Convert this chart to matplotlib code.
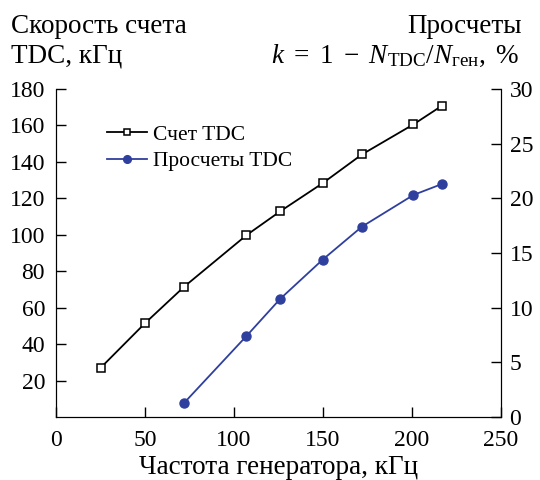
import matplotlib
matplotlib.use("Agg")
import matplotlib.pyplot as plt

plt.rcParams['font.family'] = ['Liberation Serif', 'DejaVu Serif']
plt.rcParams['mathtext.fontset'] = 'custom'
plt.rcParams['mathtext.rm'] = 'Liberation Serif'
plt.rcParams['mathtext.it'] = 'Liberation Serif:italic'
plt.rcParams['mathtext.bf'] = 'Liberation Serif:bold'

# Data
freq_count = [25, 50, 72, 107, 126, 150, 172, 201, 217]
count_tdc = [27, 51.5, 71.5, 99.7, 112.8, 128.3, 144, 160.5, 170.7]
freq_loss = [72, 107, 126, 150, 172, 201, 217]
loss_tdc = [1.3, 7.4, 10.8, 14.4, 17.4, 20.3, 21.3]

xticks = [0, 50, 100, 150, 200, 250]
yticks_left = [20, 40, 60, 80, 100, 120, 140, 160, 180]
yticks_right = [0, 5, 10, 15, 20, 25, 30]

blue = '#2f3f9e'

fig = plt.figure(figsize=(5.4, 4.8), dpi=100)
ax = fig.add_axes([0.104, 0.131, 0.823, 0.684])
ax2 = ax.twinx()

l1, = ax.plot(freq_count, count_tdc, '-', color='black', lw=1.3, marker='s',
              ms=5.5, mfc='white', mec='black', mew=1.1, label='Счет TDC')
l2, = ax2.plot(freq_loss, loss_tdc, '-', color=blue, lw=1.3, marker='o',
               ms=6.5, mfc=blue, mec=blue, label='Просчеты TDC')

ax.set_xlim(0, 250)
ax.set_ylim(0, 180)
ax2.set_ylim(0, 30)
ax.set_xticks(xticks)
ax.set_yticks(yticks_left)
ax2.set_yticks(yticks_right)

for a in (ax, ax2):
    a.spines['top'].set_visible(False)
    a.tick_params(direction='in', length=7, width=1, labelsize=17)
ax.tick_params(axis='x', pad=9)
ax.tick_params(axis='y', pad=8)
ax2.tick_params(axis='y', pad=6.5)

ax.set_xlabel('Частота генератора, кГц', fontsize=19.5, labelpad=3)

fig.text(0.02, 1 - 33 / 480, 'Скорость счета', ha='left', va='baseline',
         fontsize=19.5)
fig.text(0.02, 1 - 63 / 480, 'TDC, кГц', ha='left', va='baseline',
         fontsize=19.5)
fig.text(0.967, 1 - 33 / 480, 'Просчеты', ha='right', va='baseline',
         fontsize=19.5)
fig.text(0.962, 1 - 63 / 480,
         r'$k\ =\ 1\ -\ N_{\mathrm{TDC}}/N_{\mathrm{ген}},\ \%$',
         ha='right', va='baseline', fontsize=19.5)

leg = ax.legend(handles=[l1, l2], loc='upper left',
                bbox_to_anchor=(0.198, 0.740), bbox_transform=fig.transFigure,
                frameon=False, fontsize=15.5, numpoints=1, handlelength=1.86,
                handletextpad=0.3, labelspacing=0.3, borderpad=0,
                borderaxespad=0, markerscale=0.85)

fig.savefig('out.png', dpi=100)
